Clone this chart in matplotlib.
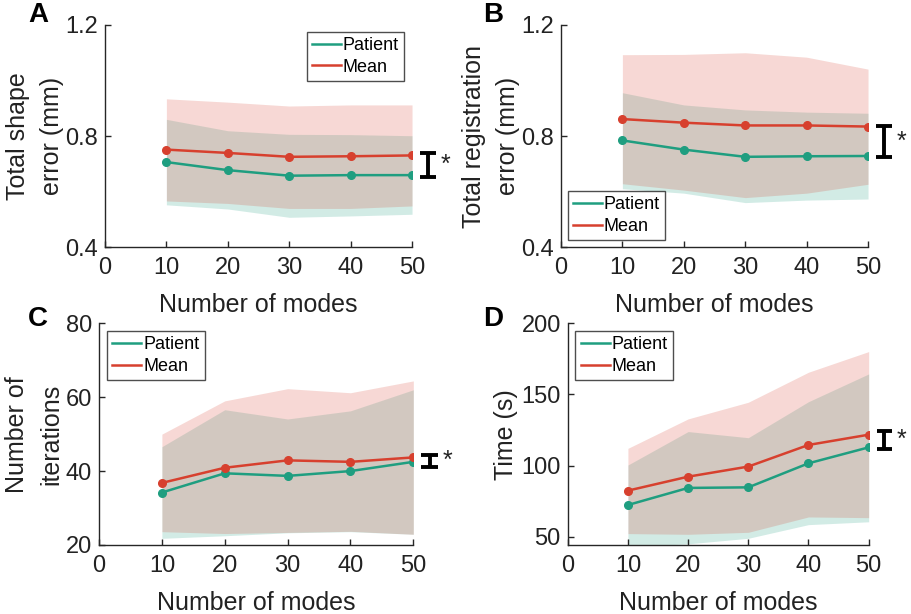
import matplotlib
matplotlib.use("Agg")
import matplotlib.pyplot as plt
from matplotlib.transforms import blended_transform_factory

plt.rcParams['font.family'] = ['Liberation Sans', 'DejaVu Sans']

modes = [10, 20, 30, 40, 50]

# Panel A: total shape error (mm)
a_pat = [0.706, 0.677, 0.657, 0.659, 0.659]
a_mean = [0.751, 0.739, 0.725, 0.727, 0.730]
a_pat_hi = [0.860, 0.819, 0.806, 0.805, 0.801]
a_pat_lo = [0.552, 0.537, 0.507, 0.512, 0.518]
a_mean_hi = [0.934, 0.922, 0.908, 0.912, 0.912]
a_mean_lo = [0.566, 0.557, 0.539, 0.539, 0.548]
a_sig = [0.738, 0.651]

# Panel B: total registration error (mm)
b_pat = [0.784, 0.751, 0.725, 0.727, 0.728]
b_mean = [0.861, 0.848, 0.838, 0.838, 0.834]
b_pat_hi = [0.956, 0.912, 0.894, 0.886, 0.882]
b_pat_lo = [0.610, 0.594, 0.560, 0.569, 0.573]
b_mean_hi = [1.093, 1.094, 1.100, 1.084, 1.041]
b_mean_lo = [0.628, 0.605, 0.578, 0.594, 0.626]
b_sig = [0.837, 0.724]

# Panel C: number of iterations
c_pat = [34.2, 39.4, 38.7, 40.0, 42.5]
c_mean = [36.8, 40.9, 42.9, 42.5, 43.7]
c_pat_hi = [46.6, 56.6, 54.1, 56.3, 62.0]
c_pat_lo = [21.8, 22.5, 23.3, 23.6, 22.9]
c_mean_hi = [50.0, 59.0, 62.3, 61.2, 64.4]
c_mean_lo = [23.6, 23.1, 23.4, 23.7, 22.9]
c_sig = [44.4, 41.0]

# Panel D: time (s)
d_pat = [72.3, 84.3, 84.7, 101.6, 112.8]
d_mean = [82.4, 92.2, 99.3, 114.5, 121.7]
d_pat_hi = [100.4, 123.9, 119.6, 144.9, 164.4]
d_pat_lo = [43.0, 45.0, 48.9, 58.5, 60.5]
d_mean_hi = [112.1, 132.8, 144.5, 165.6, 180.1]
d_mean_lo = [52.2, 51.7, 53.1, 63.9, 63.4]
d_sig = [124.3, 111.4]

x_ticks = [0, 10, 20, 30, 40, 50]

TEAL = '#1f9e80'
RED = '#d7402e'
AX = '#262626'

fig = plt.figure(figsize=(9.12, 6.14), dpi=100)

panels = [
    dict(rect=[0.1151, 0.5977, 0.3367, 0.3616], pat=a_pat, mean=a_mean,
         ph=a_pat_hi, pl=a_pat_lo, mh=a_mean_hi, ml=a_mean_lo, sig=a_sig,
         ylim=(0.4, 1.2), yticks=[0.4, 0.8, 1.2], ylabel='Total shape\nerror (mm)',
         labx=-0.135, legloc='upper right', legbbox=(0.975, 0.97)),
    dict(rect=[0.6151, 0.5977, 0.3367, 0.3616], pat=b_pat, mean=b_mean,
         ph=b_pat_hi, pl=b_pat_lo, mh=b_mean_hi, ml=b_mean_lo, sig=b_sig,
         ylim=(0.4, 1.2), yticks=[0.4, 0.8, 1.2], ylabel='Total registration\nerror (mm)',
         labx=-0.135, legloc='lower left', legbbox=(0.022, 0.03)),
    dict(rect=[0.1086, 0.1124, 0.3446, 0.3611], pat=c_pat, mean=c_mean,
         ph=c_pat_hi, pl=c_pat_lo, mh=c_mean_hi, ml=c_mean_lo, sig=c_sig,
         ylim=(20, 80), yticks=[20, 40, 60, 80], ylabel='Number of\niterations',
         labx=-0.115, legloc='upper left', legbbox=(0.025, 0.965)),
    dict(rect=[0.6225, 0.1124, 0.3300, 0.3611], pat=d_pat, mean=d_mean,
         ph=d_pat_hi, pl=d_pat_lo, mh=d_mean_hi, ml=d_mean_lo, sig=d_sig,
         ylim=(44.2, 200), yticks=[50, 100, 150, 200], ylabel='Time (s)',
         labx=-0.165, legloc='upper left', legbbox=(0.025, 0.965)),
]

for p in panels:
    ax = fig.add_axes(p['rect'])
    ax.fill_between(modes, p['pl'], p['ph'], color=TEAL, alpha=0.2, linewidth=0)
    ax.fill_between(modes, p['ml'], p['mh'], color=RED, alpha=0.2, linewidth=0)
    ax.plot(modes, p['pat'], color=TEAL, lw=1.8, marker='o', ms=5.5, label='Patient')
    ax.plot(modes, p['mean'], color=RED, lw=1.8, marker='o', ms=5.5, label='Mean')
    ax.set_xlim(0, 50)
    ax.set_ylim(*p['ylim'])
    ax.set_xticks(x_ticks)
    ax.set_yticks(p['yticks'])
    ax.set_yticklabels([('%g' % v) for v in p['yticks']])
    for s in ['top', 'right']:
        ax.spines[s].set_visible(False)
    for s in ['left', 'bottom']:
        ax.spines[s].set_color(AX)
        ax.spines[s].set_linewidth(1.0)
    ax.tick_params(direction='in', length=4, width=1.0, colors=AX, labelsize=17,
                   labelcolor='#222222', pad=5)
    ax.tick_params(axis='x', pad=7)
    ax.set_xlabel('Number of modes', fontsize=18, color='#222222', labelpad=10)
    ax.set_ylabel(p['ylabel'], fontsize=18, color='#222222', linespacing=1.5)
    ax.yaxis.set_label_coords(p['labx'], 0.5)
    leg = ax.legend(loc=p['legloc'], bbox_to_anchor=p['legbbox'], fontsize=13,
                    frameon=True, fancybox=False, handlelength=1.6, handletextpad=0.1,
                    borderpad=0.3, labelspacing=0.25, borderaxespad=0.0)
    for h in leg.get_lines():
        h.set_marker('')
        h.set_linewidth(1.8)
    leg.get_frame().set_edgecolor('#222222')
    leg.get_frame().set_linewidth(1.0)

    tr = blended_transform_factory(ax.transAxes, ax.transData)
    xs = 1.052
    cw = 0.026
    hi, lo = p['sig']
    ax.plot([xs, xs], [lo, hi], color='black', lw=2.8, transform=tr, clip_on=False,
            solid_capstyle='butt')
    ax.plot([xs - cw, xs + cw], [hi, hi], color='black', lw=2.8, transform=tr, clip_on=False,
            solid_capstyle='butt')
    ax.plot([xs - cw, xs + cw], [lo, lo], color='black', lw=2.8, transform=tr, clip_on=False,
            solid_capstyle='butt')
    ax.text(1.11, (hi + lo) / 2, '*', transform=tr, fontsize=18, ha='center', va='center',
            color='#222222')

letters = [('A', 0.042, 0.975), ('B', 0.541, 0.975), ('C', 0.042, 0.480), ('D', 0.541, 0.480)]
for t, x, y in letters:
    fig.text(x, y, t, fontsize=20, fontweight='bold', ha='center', va='center', color='black')

fig.savefig('out.png', dpi=100)
